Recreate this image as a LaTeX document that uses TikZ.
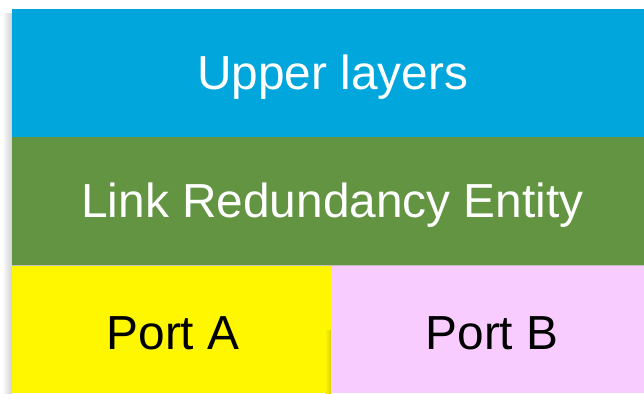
\documentclass[tikz,border=0pt]{standalone}
\usepackage{fontspec}
\setmainfont{Liberation Sans}
\begin{document}
\begin{tikzpicture}[x=1pt,y=-1pt,
  layer/.style={inner sep=0pt,outer sep=0pt,font=\fontsize{47.8}{52}\selectfont}]
\useasboundingbox (0,0) rectangle (644,393);
\definecolor{upblue}{HTML}{00A6DC}
\definecolor{lregreen}{HTML}{629442}
\definecolor{portyellow}{HTML}{FFF700}
\definecolor{portpink}{HTML}{F9CCFF}
% left soft shadow
\shade[left color=white,right color=black!18] (2,14) rectangle (12,393);
\begin{scope}
\clip (0,0) rectangle (644,393);
\fill[upblue] (12,9) rectangle (653,137);
\fill[lregreen] (12,137) rectangle (653,265);
\fill[black!25] (12,264.5) rectangle (653,265.5);
\fill[portyellow] (12,265.5) rectangle (331,393);
\shade[left color=portyellow,right color=black!15!portyellow] (325,330) rectangle (331,393);
\fill[portpink] (331,265.5) rectangle (653,393);
\node[layer,text=white] (upper) at (332.5,77) {Upper layers};
\node[layer,text=white] (lre) at (332.5,205) {Link Redundancy Entity};
\node[layer,text=black] (porta) at (173,333) {Port A};
\node[layer,text=black] (portb) at (492,333) {Port B};
\end{scope}
\end{tikzpicture}
\end{document}
